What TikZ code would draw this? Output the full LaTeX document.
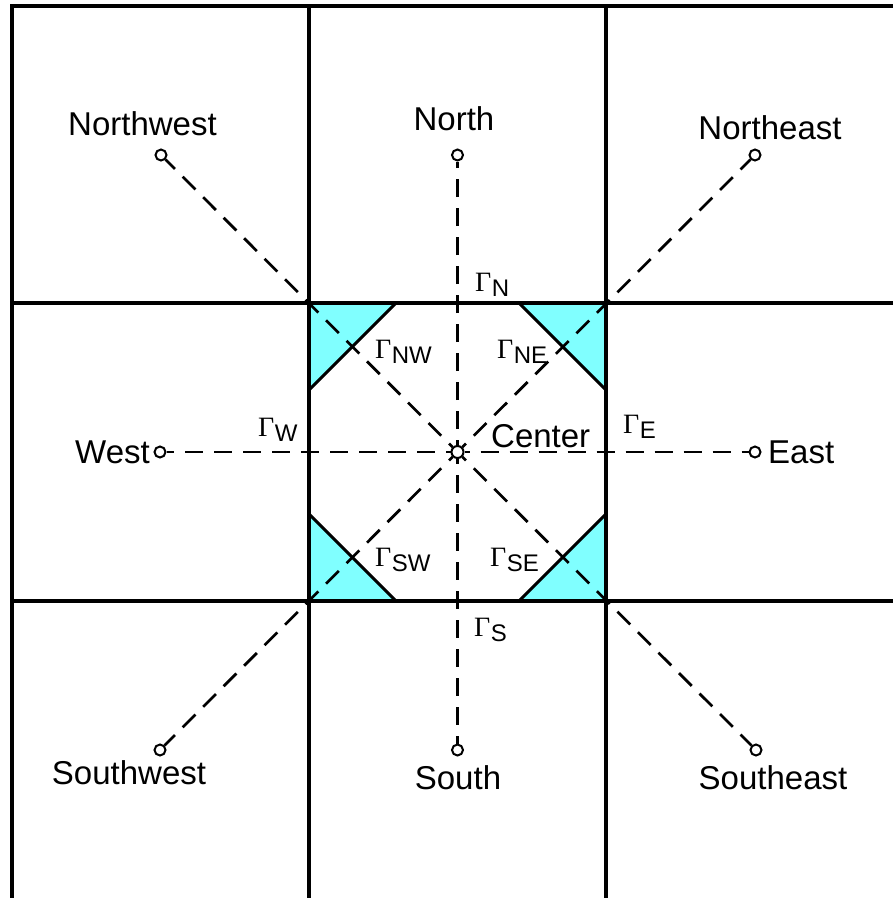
\documentclass[tikz,border=0pt]{standalone}
\usepackage{fontspec}
\setmainfont{Liberation Sans}
\newfontfamily\gfont{Liberation Serif}
\definecolor{tricyan}{RGB}{128,255,255}
\newcommand{\GamL}[1]{{\gfont\fontsize{28}{30}\selectfont Γ}\kern0.5pt\raisebox{-5pt}{\fontsize{24}{26}\selectfont #1}}
\begin{document}
\begin{tikzpicture}[x=1pt,y=-1pt,
  gridline/.style={line width=4pt,line cap=rect},
  hyp/.style={line width=3pt},
  tri/.style={fill=tricyan},
  ray/.style={line width=2.7pt,dash pattern=on 18pt off 11pt,dash phase=13pt},
  endpt/.style={circle,draw,fill=white,line width=2pt,minimum size=11pt,inner sep=0pt},
  ctr/.style={circle,draw,fill=white,line width=2pt,minimum size=12pt,inner sep=0pt},
  lbl/.style={inner sep=0pt,font=\fontsize{33}{38}\selectfont},
  glbl/.style={inner sep=0pt,anchor=base west}]
\useasboundingbox (0,0) rectangle (893,898);
\fill[white] (0,0) rectangle (893,898);
\begin{scope}
\clip (0,0) rectangle (893,898);
% cyan corner triangles
\fill[tri] (309,303) -- (396,303) -- (309,390) -- cycle;
\fill[tri] (606,303) -- (519,303) -- (606,390) -- cycle;
\fill[tri] (309,601) -- (396,601) -- (309,514) -- cycle;
\fill[tri] (606,601) -- (519,601) -- (606,514) -- cycle;
\draw[hyp] (396,303) -- (309,390);
\draw[hyp] (519,303) -- (606,390);
\draw[hyp] (396,601) -- (309,514);
\draw[hyp] (519,601) -- (606,514);
% grid
\foreach \gx in {12,309,606,903} \draw[gridline] (\gx,6) -- (\gx,901);
\foreach \gy in {6,303,601,901} \draw[gridline] (12,\gy) -- (903,\gy);
\end{scope}
% points
\node[ctr] (c) at (457.5,452) {};
\node[endpt] (nw) at (161,155) {};
\node[endpt] (n) at (457.5,155) {};
\node[endpt] (ne) at (755,155) {};
\node[endpt] (w) at (160,452) {};
\node[endpt] (e) at (755,452) {};
\node[endpt] (sw) at (160,750) {};
\node[endpt] (s) at (457.5,750) {};
\node[endpt] (se) at (756,750) {};
\foreach \p in {nw,n,ne,w,e,sw,s,se} \draw[ray] (c) -- (\p);
% direction labels
\node[lbl,anchor=base] (lnw) at (142.5,135) {Northwest};
\node[lbl,anchor=base] (ln) at (454,130) {North};
\node[lbl,anchor=base] (lne) at (770,139) {Northeast};
\node[lbl,anchor=base east] (lw) at (150,463) {West};
\node[lbl,anchor=base west] (le) at (768,463) {East};
\node[lbl,anchor=base] (lsw) at (129,784) {Southwest};
\node[lbl,anchor=base] (ls) at (458,789) {South};
\node[lbl,anchor=base] (lse) at (773,789) {Southeast};
\node[lbl,anchor=base west] (lc) at (491,447) {Center};
% boundary labels
\node[glbl] (gn) at (475,291) {\GamL{N}};
\node[glbl] (gs) at (474,636) {\GamL{S}};
\node[glbl] (gw) at (258,436) {\GamL{W}};
\node[glbl] (ge) at (623,433) {\GamL{E}};
\node[glbl] (gnw) at (375,358) {\GamL{NW}};
\node[glbl] (gne) at (497,358) {\GamL{NE}};
\node[glbl] (gsw) at (375,566) {\GamL{SW}};
\node[glbl] (gse) at (490,566) {\GamL{SE}};
\end{tikzpicture}
\end{document}
